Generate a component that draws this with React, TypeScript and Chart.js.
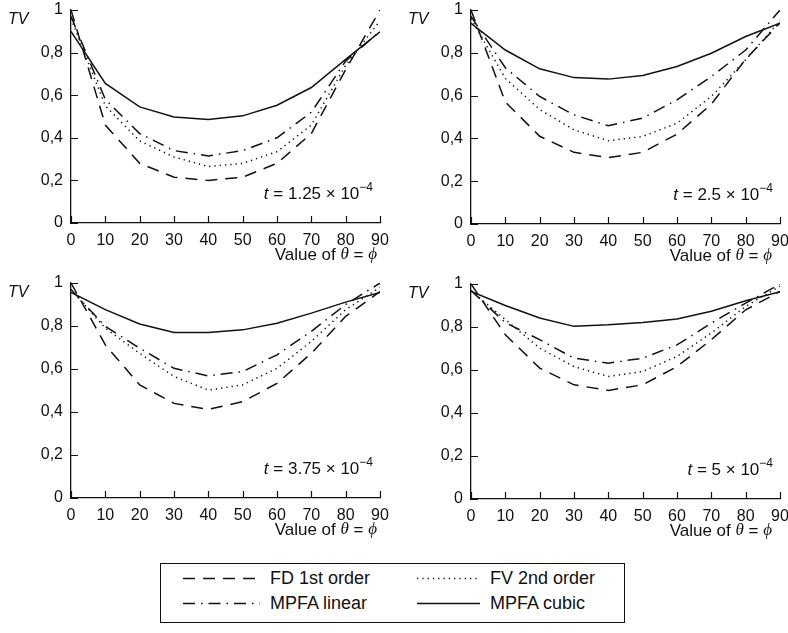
import React, { useEffect, useRef } from "react";
import { Chart, registerables } from "chart.js";

Chart.register(...registerables);

// ---------- data ----------
const thetaValues = [0, 10, 20, 30, 40, 50, 60, 70, 80, 90];
const yTickLabels = ["0", "0,2", "0,4", "0,6", "0,8", "1"];
const seriesNames = ["FD 1st order", "FV 2nd order", "MPFA linear", "MPFA cubic"];

// t = 1.25e-4
const fd1 = [1.0, 0.46, 0.28, 0.215, 0.2, 0.215, 0.28, 0.42, 0.72, 1.0];
const fv1 = [0.96, 0.55, 0.385, 0.31, 0.265, 0.28, 0.335, 0.46, 0.74, 0.95];
const lin1 = [0.97, 0.58, 0.42, 0.34, 0.315, 0.34, 0.4, 0.52, 0.76, 0.9];
const cub1 = [0.9, 0.655, 0.545, 0.498, 0.486, 0.503, 0.553, 0.636, 0.768, 0.898];

// t = 2.5e-4
const fd2 = [1.0, 0.57, 0.41, 0.335, 0.31, 0.335, 0.42, 0.56, 0.77, 0.94];
const fv2 = [0.96, 0.68, 0.535, 0.44, 0.389, 0.409, 0.471, 0.596, 0.767, 0.95];
const lin2 = [0.97, 0.73, 0.596, 0.51, 0.459, 0.495, 0.58, 0.689, 0.813, 1.0];
const cub2 = [0.938, 0.813, 0.725, 0.684, 0.677, 0.694, 0.736, 0.798, 0.876, 0.938];

// t = 3.75e-4
const fd3 = [1.0, 0.712, 0.526, 0.44, 0.412, 0.448, 0.533, 0.673, 0.845, 0.96];
const fv3 = [0.97, 0.79, 0.673, 0.565, 0.502, 0.526, 0.603, 0.728, 0.876, 0.98];
const lin3 = [0.97, 0.798, 0.697, 0.603, 0.568, 0.588, 0.666, 0.775, 0.9, 1.0];
const cub3 = [0.956, 0.876, 0.809, 0.77, 0.77, 0.782, 0.813, 0.86, 0.911, 0.956];

// t = 5e-4
const fd4 = [1.0, 0.764, 0.609, 0.531, 0.505, 0.531, 0.616, 0.741, 0.88, 0.965];
const fv4 = [0.97, 0.834, 0.702, 0.616, 0.57, 0.593, 0.663, 0.772, 0.896, 0.99];
const lin4 = [0.97, 0.82, 0.741, 0.655, 0.632, 0.655, 0.717, 0.818, 0.911, 1.0];
const cub4 = [0.965, 0.9, 0.842, 0.803, 0.81, 0.821, 0.837, 0.873, 0.922, 0.964];

const timeMantissas = ["1.25", "2.5", "3.75", "5"];

// ---------- styles ----------
const FONT = '"Liberation Sans", Arial, Helvetica, sans-serif';
const FS = 16; // tick labels
const FS_TEXT = 17; // annotations / axis title
const FS_LEGEND = 18;
const INK = "#111111";
const dashes: number[][] = [[12, 8], [1.3, 4], [12, 6, 1.5, 6], []];

type PanelCfg = {
  left: number;
  top: number;
  yAxisW: number;
  padTop: number;
  padRight: number;
  padBottom: number;
  titleOff: number;
  series: number[][];
  mant: string;
};

const panels: PanelCfg[] = [
  { left: 0, top: 0, yAxisW: 71, padTop: 10, padRight: 14, padBottom: 7, titleOff: 3, series: [fd1, fv1, lin1, cub1], mant: timeMantissas[0] },
  { left: 394, top: 0, yAxisW: 77, padTop: 10, padRight: 8, padBottom: 6, titleOff: 8, series: [fd2, fv2, lin2, cub2], mant: timeMantissas[1] },
  { left: 0, top: 270, yAxisW: 71, padTop: 13, padRight: 14, padBottom: 2, titleOff: 3, series: [fd3, fv3, lin3, cub3], mant: timeMantissas[2] },
  { left: 394, top: 270, yAxisW: 77, padTop: 14, padRight: 8, padBottom: 1, titleOff: 8, series: [fd4, fv4, lin4, cub4], mant: timeMantissas[3] },
];

type Run = { text: string; font: string; dy?: number };

function drawRunsRight(ctx: CanvasRenderingContext2D, runs: Run[], right: number, y: number) {
  let total = 0;
  const widths = runs.map((r) => {
    ctx.font = r.font;
    const w = ctx.measureText(r.text).width;
    total += w;
    return w;
  });
  let x = right - total;
  runs.forEach((r, i) => {
    ctx.font = r.font;
    ctx.fillText(r.text, x, y + (r.dy || 0));
    x += widths[i];
  });
}

function makeDecor(p: PanelCfg) {
  return {
    id: "decor",
    afterDraw(chart: any) {
      const { ctx, chartArea, scales } = chart;
      const xs = scales.x;
      const ys = scales.y;
      ctx.save();
      ctx.strokeStyle = INK;
      ctx.lineWidth = 1.2;
      ctx.beginPath();
      xs.ticks.forEach((t: any) => {
        const px = Math.round(xs.getPixelForValue(t.value)) + 0.5;
        ctx.moveTo(px, chartArea.bottom);
        ctx.lineTo(px, chartArea.bottom - 7);
      });
      ys.ticks.forEach((t: any) => {
        const py = Math.round(ys.getPixelForValue(t.value)) + 0.5;
        ctx.moveTo(chartArea.left, py);
        ctx.lineTo(chartArea.left + 7, py);
      });
      ctx.stroke();

      ctx.fillStyle = INK;
      ctx.textBaseline = "middle";
      ctx.textAlign = "left";
      ctx.font = `italic ${FS}px ${FONT}`;
      ctx.fillText("TV", chartArea.left - 63, chartArea.top + 10);

      const normal = `${FS_TEXT}px ${FONT}`;
      const small = `${Math.round(FS_TEXT * 0.68)}px ${FONT}`;
      drawRunsRight(
        ctx,
        [
          { text: "t", font: `italic ${FS_TEXT}px ${FONT}` },
          { text: " = " + p.mant + " \u00d7 10", font: normal },
          { text: "\u22124", font: small, dy: -6 },
        ],
        chartArea.right - 7,
        chartArea.bottom - 29
      );

      const greek = `italic ${FS_TEXT}px "Liberation Serif", "DejaVu Serif", serif`;
      drawRunsRight(
        ctx,
        [
          { text: "Value of ", font: normal },
          { text: "\u03b8", font: greek },
          { text: " = ", font: normal },
          { text: "\u03d5", font: greek },
        ],
        chartArea.right - p.titleOff,
        chartArea.bottom + 32
      );
      ctx.restore();
    },
  };
}

function Panel({ p }: { p: PanelCfg }) {
  const ref = useRef<HTMLCanvasElement>(null);
  useEffect(() => {
    const chart = new Chart(ref.current as HTMLCanvasElement, {
      type: "line",
      data: {
        datasets: p.series.map((arr, si) => ({
          label: seriesNames[si],
          data: thetaValues.map((x, i) => ({ x, y: arr[i] })),
          borderColor: INK,
          borderWidth: 1.5,
          borderDash: dashes[si],
          pointRadius: 0,
          tension: 0,
          fill: false,
        })),
      },
      options: {
        animation: false,
        responsive: false,
        maintainAspectRatio: false,
        events: [],
        layout: { autoPadding: false, padding: { left: 0, top: p.padTop, right: p.padRight, bottom: p.padBottom } },
        plugins: { legend: { display: false }, tooltip: { enabled: false } },
        scales: {
          x: {
            type: "linear",
            min: 0,
            max: 90,
            afterFit(s: any) {
              s.height = 40;
              s.paddingLeft = 0;
              s.paddingRight = 0;
            },
            grid: { display: false, drawTicks: false },
            border: { display: true, color: INK, width: 1.3 },
            ticks: {
              stepSize: 10,
              autoSkip: false,
              maxRotation: 0,
              padding: 8,
              color: INK,
              font: { family: FONT, size: FS },
            },
          },
          y: {
            type: "linear",
            min: 0,
            max: 1,
            afterFit(s: any) {
              s.width = p.yAxisW;
              s.paddingTop = 0;
              s.paddingBottom = 0;
            },
            grid: { display: false, drawTicks: false },
            border: { display: true, color: INK, width: 1.3 },
            ticks: {
              stepSize: 0.2,
              padding: 8,
              color: INK,
              font: { family: FONT, size: FS },
              callback: (_v: any, i: number) => yTickLabels[i],
            },
          },
        },
      } as any,
      plugins: [makeDecor(p)],
    });
    return () => chart.destroy();
  }, []);
  return (
    <canvas
      ref={ref}
      width={394}
      height={270}
      style={{ position: "absolute", left: p.left, top: p.top, width: 394, height: 270 }}
    />
  );
}

function LegendBox() {
  const W = 465;
  const H = 60;
  const items = [
    { name: seriesNames[0], dash: dashes[0], x1: 23, x2: 100, tx: 110, y: 15 },
    { name: seriesNames[1], dash: dashes[1], x1: 257, x2: 320, tx: 330, y: 15 },
    { name: seriesNames[2], dash: dashes[2], x1: 23, x2: 100, tx: 110, y: 40 },
    { name: seriesNames[3], dash: dashes[3], x1: 257, x2: 320, tx: 330, y: 40 },
  ];
  return (
    <svg width={W} height={H} style={{ position: "absolute", left: 160, top: 563 }}>
      <rect x={0.5} y={0.5} width={W - 1} height={H - 1} fill="white" stroke={INK} strokeWidth={1} />
      {items.map((it) => (
        <g key={it.name}>
          <line
            x1={it.x1}
            x2={it.x2}
            y1={it.y + 0.5}
            y2={it.y + 0.5}
            stroke={INK}
            strokeWidth={1.4}
            strokeDasharray={it.dash.length ? it.dash.join(" ") : undefined}
          />
          <text
            x={it.tx}
            y={it.y}
            dominantBaseline="central"
            fill={INK}
            style={{ fontFamily: FONT, fontSize: FS_LEGEND }}
          >
            {it.name}
          </text>
        </g>
      ))}
    </svg>
  );
}

export default function App() {
  return (
    <div style={{ position: "absolute", left: 0, top: 0, width: 788, height: 633, background: "white", overflow: "hidden" }}>
      {panels.map((p, i) => (
        <Panel key={i} p={p} />
      ))}
      <LegendBox />
    </div>
  );
}
